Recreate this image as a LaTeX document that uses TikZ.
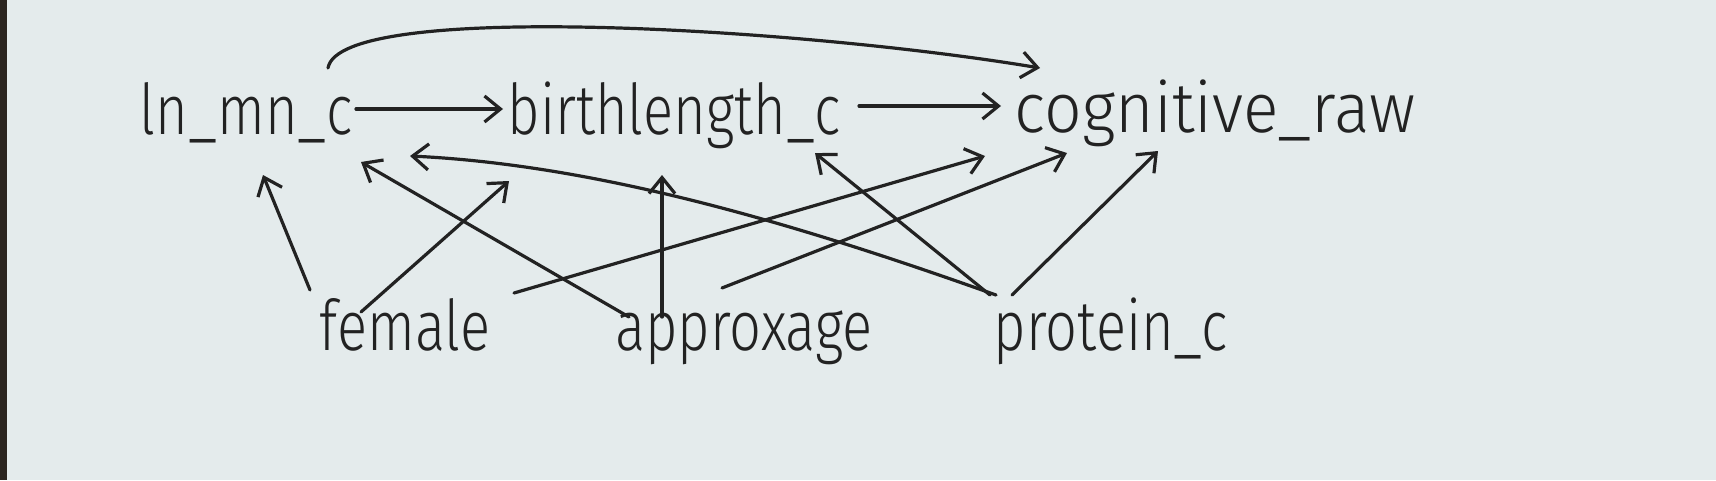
\documentclass[tikz,border=0pt]{standalone}
\usepackage{fontspec}
\setmainfont{Fira Sans}[UprightFont=* Light]
\usetikzlibrary{arrows.meta}
\usetikzlibrary{calc}
\definecolor{paper}{HTML}{E4EBEC}
\definecolor{edge}{HTML}{2B2520}
\definecolor{ink}{HTML}{222222}
\newcommand{\hand}[1]{\scalebox{1}[1.25]{#1}}
\tikzset{
  var/.style={anchor=base, inner sep=0pt, text=ink, font=\fontsize{56}{60}\selectfont},
  arr/.style={draw=ink, line width=3.2pt, line cap=round, line join=round,
    -{Straight Barb[length=16pt, width=26pt, line width=3.2pt]}}
}

\begin{document}
\begin{tikzpicture}[x=1pt, y=-1pt]
    \fill[paper] (0,0) rectangle (1716,480);
    \fill[edge] (0,0) rectangle (7,480);
    \useasboundingbox (0,0) rectangle (1716,480);

    \node[var] (lnmn) at (246,134) {\hand{ln\_mn\_c}};
    \node[var] (birth) at (674,134) {\hand{birthlength\_c}};
    \node[var] (cog) at (1215,132) {\hand{\scalebox{1.18}[1]{cognitive\_raw}}};
    \node[var] (female) at (405,350) {\hand{female}};
    \node[var] (age) at (744,350) {\hand{approxage}};
    \node[var] (protein) at (1111,350) {\hand{protein\_c}};

    \draw[arr] ($(lnmn.base)+(110,-25)$) -- ($(birth.base)+(-171,-25)$);
    \draw[arr] ($(birth.base)+(185,-28)$) -- ($(cog.base)+(-214,-26)$);
    \draw[arr] ($(lnmn.base)+(82,-66)$) .. controls (340,0) and (800,28) .. ($(cog.base)+(-175,-64)$);

    \draw[arr] ($(female.base)+(-95,-60)$) -- ($(lnmn.base)+(17,41)$);
    \draw[arr] ($(female.base)+(-44,-38)$) -- ($(birth.base)+(-165,47)$);
    \draw[arr] ($(female.base)+(109,-57)$) -- ($(cog.base)+(-230,24)$);

    \draw[arr] ($(age.base)+(-115,-33)$) -- ($(lnmn.base)+(115,28)$);
    \draw[arr] ($(age.base)+(-82,-33)$) -- ($(birth.base)+(-12,41)$);
    \draw[arr] ($(age.base)+(-22,-62)$) -- ($(cog.base)+(-148,21)$);

    \draw[arr] ($(protein.base)+(-115,-55)$) .. controls (800,225) and (600,165) .. ($(lnmn.base)+(164,22)$);
    \draw[arr] ($(protein.base)+(-121,-55)$) -- ($(birth.base)+(141,19)$);
    \draw[arr] ($(protein.base)+(-99,-55)$) -- ($(cog.base)+(-57,19)$);
\end{tikzpicture}
\end{document}
